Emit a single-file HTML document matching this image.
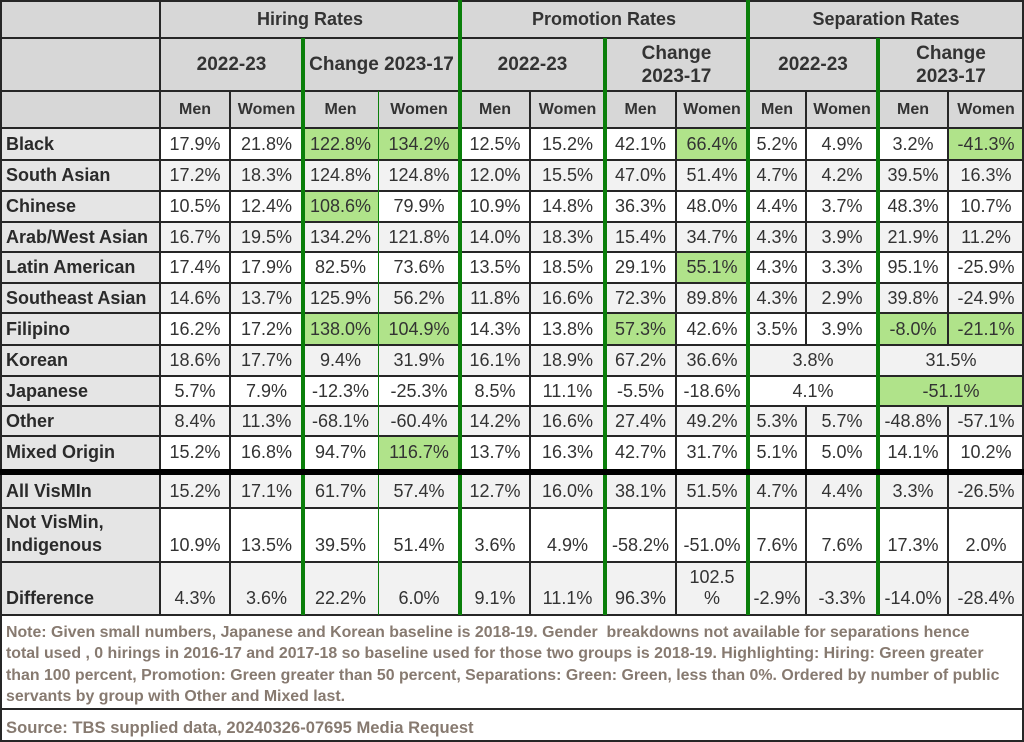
<!DOCTYPE html>
<html><head><meta charset="utf-8"><style>
*{box-sizing:border-box}
body{margin:0;width:1024px;height:742px;position:relative;overflow:hidden;background:#fff;font-family:"Liberation Sans",Arial,sans-serif}
#g{position:absolute;left:0;top:0;width:1024px;height:742px;display:grid;
grid-template-columns:160px 70px 73px 75px 82px 70px 75px 71px 72px 58px 72px 70px 76px;
grid-template-rows:38px 53px 37px 32px 31px 31px 30px 31px 30px 32px 31px 30px 30px 33px 6px 33px 54px 53px 94px 33px}
.c{display:flex;align-items:center;justify-content:center;color:#333;font-size:18px;line-height:21px;text-align:center;white-space:nowrap;background:#fff}
.h{background:#d7d7d7;font-weight:bold;color:#333}
.h1{font-size:18px}
.h2{font-size:19px;line-height:23px}
.h3{font-size:16px}
.l{background:#e5e5e5;font-weight:bold;justify-content:flex-start;padding-left:6px;color:#2a2a2a;text-align:left}
.r .c:not(.l){background:#f2f2f2}
.c.G{background:#b0e38a !important}
.b{align-items:flex-end;padding-bottom:6px}
.s2{grid-column:span 2}.s4{grid-column:span 4}.s13{grid-column:span 13}
.bar{background:#000}
.note{background:#fff;color:#877a70;font-weight:bold;font-size:15.9px;line-height:21.3px;padding:7px 0 0 6px;white-space:nowrap;text-align:left;display:block;overflow:hidden}
.src{background:#fff;color:#877a70;font-weight:bold;font-size:16.6px;padding:4px 0 0 6px;white-space:nowrap;display:flex;align-items:center}
.ln{position:absolute;background:#262626}
.gl{position:absolute;background:#0a7f0a}
.row{display:contents}
</style></head><body>
<div id="g">
<!-- header row 1 -->
<div class="c h"></div>
<div class="c h h1 s4">Hiring Rates</div>
<div class="c h h1 s4">Promotion Rates</div>
<div class="c h h1 s4">Separation Rates</div>
<!-- header row 2 -->
<div class="c h"></div>
<div class="c h h2 s2">2022-23</div>
<div class="c h h2 s2">Change 2023-17</div>
<div class="c h h2 s2">2022-23</div>
<div class="c h h2 s2">Change<br>2023-17</div>
<div class="c h h2 s2">2022-23</div>
<div class="c h h2 s2">Change<br>2023-17</div>
<!-- header row 3 -->
<div class="c h"></div>
<div class="c h h3">Men</div><div class="c h h3">Women</div><div class="c h h3">Men</div><div class="c h h3">Women</div>
<div class="c h h3">Men</div><div class="c h h3">Women</div><div class="c h h3">Men</div><div class="c h h3">Women</div>
<div class="c h h3">Men</div><div class="c h h3">Women</div><div class="c h h3">Men</div><div class="c h h3">Women</div>

<div class="row"><div class="c l">Black</div><div class="c">17.9%</div><div class="c">21.8%</div><div class="c G">122.8%</div><div class="c G">134.2%</div><div class="c">12.5%</div><div class="c">15.2%</div><div class="c">42.1%</div><div class="c G">66.4%</div><div class="c">5.2%</div><div class="c">4.9%</div><div class="c">3.2%</div><div class="c G">-41.3%</div></div>
<div class="row r"><div class="c l">South Asian</div><div class="c">17.2%</div><div class="c">18.3%</div><div class="c">124.8%</div><div class="c">124.8%</div><div class="c">12.0%</div><div class="c">15.5%</div><div class="c">47.0%</div><div class="c">51.4%</div><div class="c">4.7%</div><div class="c">4.2%</div><div class="c">39.5%</div><div class="c">16.3%</div></div>
<div class="row"><div class="c l">Chinese</div><div class="c">10.5%</div><div class="c">12.4%</div><div class="c G">108.6%</div><div class="c">79.9%</div><div class="c">10.9%</div><div class="c">14.8%</div><div class="c">36.3%</div><div class="c">48.0%</div><div class="c">4.4%</div><div class="c">3.7%</div><div class="c">48.3%</div><div class="c">10.7%</div></div>
<div class="row r"><div class="c l">Arab/West Asian</div><div class="c">16.7%</div><div class="c">19.5%</div><div class="c">134.2%</div><div class="c">121.8%</div><div class="c">14.0%</div><div class="c">18.3%</div><div class="c">15.4%</div><div class="c">34.7%</div><div class="c">4.3%</div><div class="c">3.9%</div><div class="c">21.9%</div><div class="c">11.2%</div></div>
<div class="row"><div class="c l">Latin American</div><div class="c">17.4%</div><div class="c">17.9%</div><div class="c">82.5%</div><div class="c">73.6%</div><div class="c">13.5%</div><div class="c">18.5%</div><div class="c">29.1%</div><div class="c G">55.1%</div><div class="c">4.3%</div><div class="c">3.3%</div><div class="c">95.1%</div><div class="c">-25.9%</div></div>
<div class="row r"><div class="c l">Southeast Asian</div><div class="c">14.6%</div><div class="c">13.7%</div><div class="c">125.9%</div><div class="c">56.2%</div><div class="c">11.8%</div><div class="c">16.6%</div><div class="c">72.3%</div><div class="c">89.8%</div><div class="c">4.3%</div><div class="c">2.9%</div><div class="c">39.8%</div><div class="c">-24.9%</div></div>
<div class="row"><div class="c l">Filipino</div><div class="c">16.2%</div><div class="c">17.2%</div><div class="c G">138.0%</div><div class="c G">104.9%</div><div class="c">14.3%</div><div class="c">13.8%</div><div class="c G">57.3%</div><div class="c">42.6%</div><div class="c">3.5%</div><div class="c">3.9%</div><div class="c G">-8.0%</div><div class="c G">-21.1%</div></div>
<div class="row r"><div class="c l">Korean</div><div class="c">18.6%</div><div class="c">17.7%</div><div class="c">9.4%</div><div class="c">31.9%</div><div class="c">16.1%</div><div class="c">18.9%</div><div class="c">67.2%</div><div class="c">36.6%</div><div class="c s2">3.8%</div><div class="c s2">31.5%</div></div>
<div class="row"><div class="c l">Japanese</div><div class="c">5.7%</div><div class="c">7.9%</div><div class="c">-12.3%</div><div class="c">-25.3%</div><div class="c">8.5%</div><div class="c">11.1%</div><div class="c">-5.5%</div><div class="c">-18.6%</div><div class="c s2">4.1%</div><div class="c s2 G">-51.1%</div></div>
<div class="row r"><div class="c l">Other</div><div class="c">8.4%</div><div class="c">11.3%</div><div class="c">-68.1%</div><div class="c">-60.4%</div><div class="c">14.2%</div><div class="c">16.6%</div><div class="c">27.4%</div><div class="c">49.2%</div><div class="c">5.3%</div><div class="c">5.7%</div><div class="c">-48.8%</div><div class="c">-57.1%</div></div>
<div class="row"><div class="c l">Mixed Origin</div><div class="c">15.2%</div><div class="c">16.8%</div><div class="c">94.7%</div><div class="c G">116.7%</div><div class="c">13.7%</div><div class="c">16.3%</div><div class="c">42.7%</div><div class="c">31.7%</div><div class="c">5.1%</div><div class="c">5.0%</div><div class="c">14.1%</div><div class="c">10.2%</div></div>
<div class="bar s13"></div>
<div class="row r"><div class="c l">All VisMIn</div><div class="c">15.2%</div><div class="c">17.1%</div><div class="c">61.7%</div><div class="c">57.4%</div><div class="c">12.7%</div><div class="c">16.0%</div><div class="c">38.1%</div><div class="c">51.5%</div><div class="c">4.7%</div><div class="c">4.4%</div><div class="c">3.3%</div><div class="c">-26.5%</div></div>
<div class="row"><div class="c l b" style="line-height:23px;padding-bottom:5px">Not VisMin,<br>Indigenous</div><div class="c b">10.9%</div><div class="c b">13.5%</div><div class="c b">39.5%</div><div class="c b">51.4%</div><div class="c b">3.6%</div><div class="c b">4.9%</div><div class="c b">-58.2%</div><div class="c b">-51.0%</div><div class="c b">7.6%</div><div class="c b">7.6%</div><div class="c b">17.3%</div><div class="c b">2.0%</div></div>
<div class="row r"><div class="c l b">Difference</div><div class="c b">4.3%</div><div class="c b">3.6%</div><div class="c b">22.2%</div><div class="c b">6.0%</div><div class="c b">9.1%</div><div class="c b">11.1%</div><div class="c b">96.3%</div><div class="c b">102.5<br>%</div><div class="c b">-2.9%</div><div class="c b">-3.3%</div><div class="c b">-14.0%</div><div class="c b">-28.4%</div></div>
<div class="note s13">Note: Given small numbers, Japanese and Korean baseline is 2018-19. Gender&nbsp; breakdowns not available for separations hence<br>total used , 0 hirings in 2016-17 and 2017-18 so baseline used for those two groups is 2018-19. Highlighting: Hiring: Green greater<br>than 100 percent, Promotion: Green greater than 50 percent, Separations: Green: Green, less than 0%. Ordered by number of public<br>servants by group with Other and Mixed last.</div>
<div class="src s13">Source: TBS supplied data, 20240326-07695 Media Request</div>
</div>

<!-- horizontal lines -->
<div class="ln" style="left:0;top:0;width:1024px;height:2px"></div>
<div class="ln" style="left:0;top:37px;width:1024px;height:2px"></div>
<div class="ln" style="left:0;top:90px;width:1024px;height:2px"></div>
<div class="ln" style="left:0;top:127px;width:1024px;height:2px"></div>
<div class="ln" style="left:0;top:159px;width:1024px;height:2px"></div>
<div class="ln" style="left:0;top:190px;width:1024px;height:2px"></div>
<div class="ln" style="left:0;top:221px;width:1024px;height:2px"></div>
<div class="ln" style="left:0;top:251px;width:1024px;height:2px"></div>
<div class="ln" style="left:0;top:282px;width:1024px;height:2px"></div>
<div class="ln" style="left:0;top:312px;width:1024px;height:2px"></div>
<div class="ln" style="left:0;top:344px;width:1024px;height:2px"></div>
<div class="ln" style="left:0;top:375px;width:1024px;height:2px"></div>
<div class="ln" style="left:0;top:405px;width:1024px;height:2px"></div>
<div class="ln" style="left:0;top:435px;width:1024px;height:2px"></div>
<div class="ln" style="left:0;top:507px;width:1024px;height:2px"></div>
<div class="ln" style="left:0;top:561px;width:1024px;height:2px"></div>
<div class="ln" style="left:0;top:614px;width:1024px;height:2px"></div>
<div class="ln" style="left:0;top:708px;width:1024px;height:2px"></div>
<div class="ln" style="left:0;top:740px;width:1024px;height:2px"></div>
<!-- outer verticals -->
<div class="ln" style="left:0;top:0;width:2px;height:742px"></div>
<div class="ln" style="left:1022px;top:0;width:2px;height:742px"></div>
<!-- thin verticals -->
<div class="ln" style="left:159px;top:0;width:2px;height:615px"></div>
<div class="ln" style="left:229px;top:91px;width:2px;height:524px"></div>
<div class="ln" style="left:529px;top:91px;width:2px;height:524px"></div>
<div class="ln" style="left:675px;top:91px;width:2px;height:524px"></div>
<div class="ln" style="left:805px;top:91px;width:2px;height:254px"></div>
<div class="ln" style="left:805px;top:406px;width:2px;height:209px"></div>
<div class="ln" style="left:947px;top:91px;width:2px;height:254px"></div>
<div class="ln" style="left:947px;top:406px;width:2px;height:209px"></div>
<div class="gl" style="left:377.5px;top:91px;width:1.2px;height:524px"></div>
<!-- thick green verticals -->
<div class="gl" style="left:301px;top:38px;width:4px;height:577px"></div>
<div class="gl" style="left:458px;top:0;width:4px;height:615px"></div>
<div class="gl" style="left:603px;top:38px;width:4px;height:577px"></div>
<div class="gl" style="left:746px;top:0;width:4px;height:615px"></div>
<div class="gl" style="left:876px;top:38px;width:4px;height:577px"></div>
<!-- thick black separator on top -->
<div class="ln" style="left:0;top:469px;width:1024px;height:6px;background:#000"></div>
</body></html>
